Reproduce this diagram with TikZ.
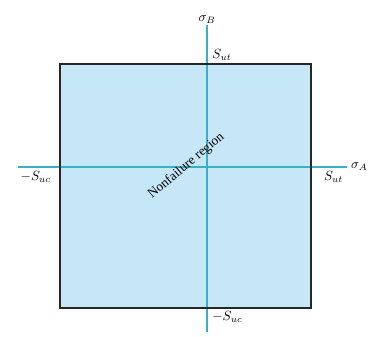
\documentclass[tikz,border=0pt]{standalone}
\usepackage{fontspec}
\setmainfont{Liberation Serif}
\usetikzlibrary{positioning}
\definecolor{regionblue}{HTML}{C6E7F8}
\definecolor{axisteal}{HTML}{3AAFC8}
\tikzset{
  axisline/.style={axisteal, line width=0.9pt},
  lbl/.style={font=\normalsize, inner sep=1pt}
}
\begin{document}
\begin{tikzpicture}[scale=1.0]
  \useasboundingbox (-5.49,-4.48) rectangle (4.48,4.43);
  \def\L{-3.9} \def\R{2.76} \def\T{2.73} \def\B{-3.74}
  % nonfailure region
  \fill[regionblue] (\L,\B) rectangle (\R,\T);
  \coordinate (xl) at (-5.0,0);  \coordinate (xr) at (3.71,0);
  \coordinate (yb) at (0,-4.37); \coordinate (yt) at (0,3.76);
  \draw[axisline] (xl) -- (xr);
  \draw[axisline] (yb) -- (yt);
  \draw[line width=1.3pt, black!85] (\L,\B) rectangle (\R,\T);
  % axis labels
  \node[lbl, above=0pt of yt] (sb) {$\sigma_B$};
  \node[lbl, right=2pt of xr] (sa) {$\sigma_A$};
  % intercepts
  \node[lbl, anchor=south west] (sut1) at (0.1,\T+0.05) {$S_{ut}$};
  \node[lbl, anchor=north west] (sut2) at (\R+0.3,-0.08) {$S_{ut}$};
  \node[lbl, anchor=north east] (suc1) at (\L-0.2,-0.08) {$-S_{uc}$};
  \node[lbl, anchor=north west] (suc2) at (0.1,\B-0.05) {$-S_{uc}$};
  \node[lbl, rotate=40] (nf) at (-0.55,0.03) {Nonfailure region};
\end{tikzpicture}
\end{document}
